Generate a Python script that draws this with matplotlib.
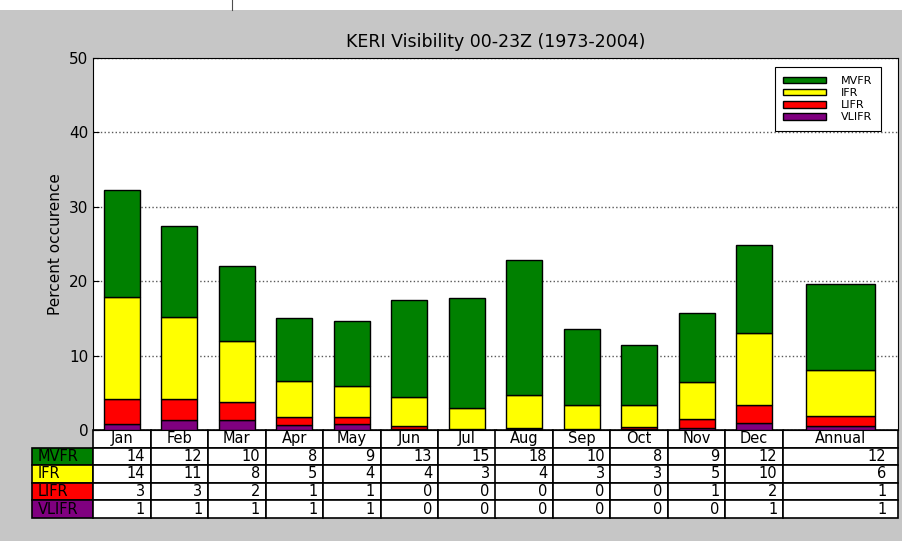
import numpy as np
import matplotlib
matplotlib.use("Agg")
from matplotlib import pyplot as plt
from matplotlib.lines import Line2D
from matplotlib.patches import Rectangle

columns = ["Jan", "Feb", "Mar", "Apr", "May", "Jun", "Jul", "Aug", "Sep",
           "Oct", "Nov", "Dec", "Annual"]
categories = ["MVFR", "IFR", "LIFR", "VLIFR"]
colors = ["#008000", "#ffff00", "#ff0000", "#800080"]

# percent occurrence, per category (stacked from VLIFR up)
vlifr = [0.8, 1.3, 1.4, 0.7, 0.8, 0.2, 0.05, 0.1, 0.05, 0.1, 0.3, 0.9, 0.6]
lifr = [3.4, 2.9, 2.4, 1.0, 0.9, 0.4, 0.1, 0.2, 0.15, 0.3, 1.2, 2.4, 1.3]
ifr = [13.7, 11.0, 8.1, 4.9, 4.2, 3.9, 2.85, 4.4, 3.2, 3.0, 4.9, 9.7, 6.1]
mvfr = [14.3, 12.2, 10.1, 8.4, 8.7, 13.0, 14.7, 18.1, 10.2, 8.0, 9.3, 11.9, 11.6]

series = [mvfr, ifr, lifr, vlifr]

fig = plt.figure(figsize=(9.03, 5.41), dpi=100, facecolor="#c6c6c6")
# white strip of the screenshot at the top
fig.patches.append(Rectangle((0, 0.982), 1, 0.018, transform=fig.transFigure,
                             facecolor="white", edgecolor="none", zorder=0))
fig.lines.append(Line2D([232 / 903, 232 / 903], [0.982, 1.0], transform=fig.transFigure,
                        color="0.3", linewidth=0.8))

ax = fig.add_axes([93 / 903, 111 / 541, 805 / 903, 372 / 541])

x = np.array([i + 0.5 for i in range(12)] + [13.0])
widths = np.array([0.62] * 12 + [1.2])

bottom = np.zeros(len(columns))
for name, vals, col in zip(categories[::-1], series[::-1], colors[::-1]):
    ax.bar(x, vals, widths, bottom=bottom, color=col, edgecolor="black",
           linewidth=1.0, label=name, zorder=3)
    bottom += np.array(vals)

ax.set_xlim(0, 14)
ax.set_ylim(0, 50)
ax.set_xticks([])
ax.set_yticks(range(0, 51, 10))
ax.tick_params(axis="y", direction="in", labelsize=11, length=4)
ax.yaxis.grid(True, linestyle=":", color="0.35", linewidth=1.0)
ax.set_axisbelow(True)
ax.set_ylabel("Percent occurence", fontsize=11)
ax.set_title("KERI Visibility 00-23Z (1973-2004)", fontsize=12.5, pad=8)

handles, labels = ax.get_legend_handles_labels()
leg = ax.legend(handles[::-1], labels[::-1], loc="upper right", fontsize=8,
                handlelength=3.8, handleheight=0.55, labelspacing=0.2,
                handletextpad=1.4, fancybox=False, framealpha=1,
                edgecolor="black", borderpad=0.8, borderaxespad=0.4,
                bbox_to_anchor=(0.985, 0.988))
leg.get_frame().set_linewidth(0.8)

# table widths in axes fractions (one month = 1/14 of the axes)
unit = 1 / 14
cell_text = [[f"{v:.0f}" for v in vals] for vals in series]
table = ax.table(cellText=cell_text, rowLabels=categories, rowColours=colors,
                 colLabels=columns, colWidths=[unit] * 12 + [2 * unit],
                 loc="bottom", bbox=[0, -88 / 372, 1, 88 / 372])
table.auto_set_font_size(False)
table.set_fontsize(10.5)
table._autoColumns = []  # keep the row label width fixed
for (r, c), cell in table.get_celld().items():
    cell.set_linewidth(1.2)
    if c == -1:
        cell.set_width(61 / 805)
        cell._loc = "left"
    elif r == 0:
        cell._loc = "center"

fig.savefig("out.png", dpi=100, facecolor=fig.get_facecolor())
